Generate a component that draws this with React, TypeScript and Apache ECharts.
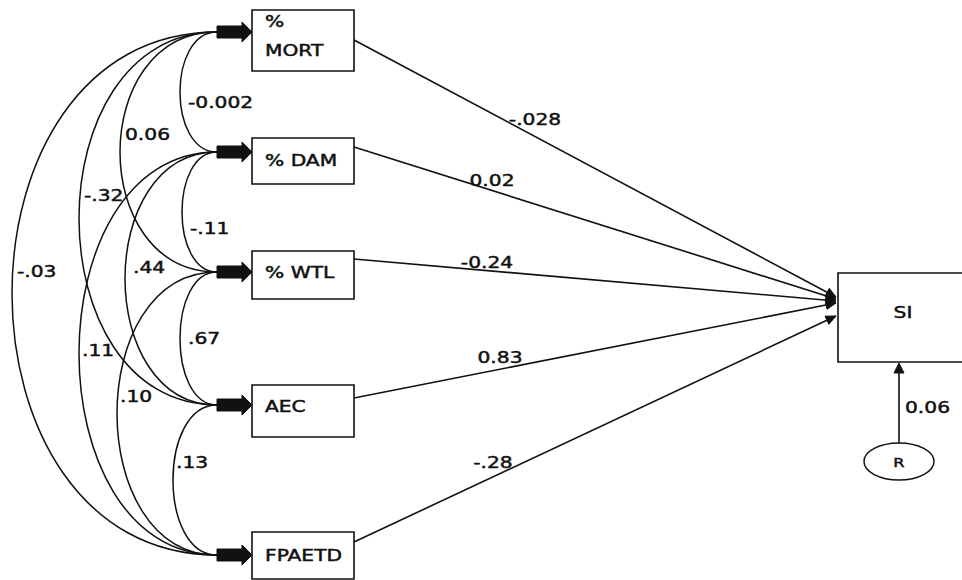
import React, { useEffect, useRef } from "react";
import * as echarts from "echarts";

// ---------------- data ----------------
const variableNames = ["% MORT", "% DAM", "% WTL", "AEC", "FPAETD"];
const variableLabelLines = [["%", "MORT"], ["% DAM"], ["% WTL"], ["AEC"], ["FPAETD"]];
const pathCoefficients = ["-.028", "0.02", "-0.24", "0.83", "-.28"];
const correlationFrom = [0, 0, 0, 0, 1, 1, 1, 2, 2, 3];
const correlationTo = [1, 2, 3, 4, 2, 3, 4, 3, 4, 4];
const correlationValues = ["-0.002", "0.06", "-.32", "-.03", "-.11", ".44", ".11", ".67", ".10", ".13"];
const outcomeName = "SI";
const residualName = "R";
const residualCoefficient = "0.06";

// ---------------- layout ----------------
const W = 962;
const H = 580;
const BOX_X0 = 252;
const BOX_X1 = 354;
const boxTop = [10, 138, 251, 385, 532];
const boxBottom = [71, 184, 299, 437, 579];
const labelLineY = [[22, 51], [161], [273], [407], [556]];
const LABEL_X = 265;
const arrowY = [32, 152, 272, 405, 555];
const ARROW_TAIL_X = 217;
const ARROW_HEAD_X = 242;
const pathStartY = [40, 147, 259, 398, 542];
const pathEndY = [297, 299, 301, 303, 316];
const PATH_END_X = 836;
const pathLabelPos = [[535, 120], [492, 181], [487, 263], [500, 358], [493, 463]];
const arcLeftX = [180, 120, 79, 12, 182, 125, 79, 180, 117, 173];
const corrLabelPos = [[188, 103], [125, 135], [84, 196], [17, 272], [190, 229], [133, 268], [82, 351], [188, 339], [120, 397], [176, 463]];
const SI_BOX = { x0: 838, y0: 273, x1: 975, y1: 362 };
const SI_LABEL = [903, 313];
const RES_CENTER = [899, 461.5];
const RES_RX = 35;
const RES_RY = 18.5;
const RES_COEF_POS = [905, 408];

const FONT = "DejaVu Sans";
const SX = 1.35;
const INK = "#111";

function txt(x: number, y: number, text: string, align: string, size = 15) {
  return {
    type: "text",
    x,
    y,
    scaleX: SX,
    style: {
      text,
      fill: INK,
      stroke: INK,
      lineWidth: 0.45,
      fontFamily: FONT,
      fontSize: size,
      align,
      verticalAlign: "middle",
    },
  };
}

function arrowHead(tipX: number, tipY: number, fromX: number, fromY: number, len: number, half: number) {
  const dx = tipX - fromX;
  const dy = tipY - fromY;
  const d = Math.sqrt(dx * dx + dy * dy) || 1;
  const ux = dx / d;
  const uy = dy / d;
  const bx = tipX - ux * len;
  const by = tipY - uy * len;
  return {
    type: "polygon",
    shape: {
      points: [
        [tipX, tipY],
        [bx - uy * half, by + ux * half],
        [bx + uy * half, by - ux * half],
      ],
    },
    style: { fill: INK, stroke: INK, lineWidth: 1 },
  };
}

export default function App() {
  const ref = useRef<HTMLDivElement>(null);

  useEffect(() => {
    if (!ref.current) return;
    const chart = echarts.init(ref.current, null, { renderer: "svg" });

    const boxesSeries = {
      type: "custom",
      silent: true,
      data: variableNames.map((_, i) => [i]),
      renderItem: (params: any, api: any) => {
        const i = api.value(0);
        const p0 = api.coord([BOX_X0, boxTop[i]]);
        const p1 = api.coord([BOX_X1, boxBottom[i]]);
        const children: any[] = [
          {
            type: "rect",
            shape: { x: p0[0], y: p0[1], width: p1[0] - p0[0], height: p1[1] - p0[1] },
            style: { fill: "#fff", stroke: INK, lineWidth: 1.6 },
          },
        ];
        variableLabelLines[i].forEach((line, k) => {
          const q = api.coord([LABEL_X, labelLineY[i][k]]);
          children.push(txt(q[0], q[1], line, "left"));
        });
        // thick arrow into the box
        const a0 = api.coord([ARROW_TAIL_X, arrowY[i]]);
        const ah = api.coord([ARROW_HEAD_X, arrowY[i]]);
        const at = api.coord([BOX_X0, arrowY[i]]);
        children.push({
          type: "polygon",
          shape: {
            points: [
              [a0[0], a0[1] - 6],
              [ah[0], ah[1] - 6],
              [ah[0], ah[1] - 10],
              [at[0], at[1]],
              [ah[0], ah[1] + 10],
              [ah[0], ah[1] + 6],
              [a0[0], a0[1] + 6],
            ],
          },
          style: { fill: INK, stroke: INK, lineWidth: 1 },
        });
        return { type: "group", children };
      },
    };

    const pathSeries = {
      type: "custom",
      silent: true,
      data: pathCoefficients.map((_, i) => [i]),
      renderItem: (params: any, api: any) => {
        const i = api.value(0);
        const s = api.coord([BOX_X1, pathStartY[i]]);
        const e = api.coord([PATH_END_X, pathEndY[i]]);
        const l = api.coord(pathLabelPos[i]);
        return {
          type: "group",
          children: [
            {
              type: "line",
              shape: { x1: s[0], y1: s[1], x2: e[0], y2: e[1] },
              style: { stroke: INK, lineWidth: 1.6 },
            },
            arrowHead(e[0], e[1], s[0], s[1], 10, 4.5),
            txt(l[0], l[1], pathCoefficients[i], "center"),
          ],
        };
      },
    };

    const corrSeries = {
      type: "custom",
      silent: true,
      data: correlationValues.map((_, i) => [i]),
      renderItem: (params: any, api: any) => {
        const i = api.value(0);
        const ya = arrowY[correlationFrom[i]];
        const yb = arrowY[correlationTo[i]];
        const cx = (arcLeftX[i] - 0.25 * ARROW_TAIL_X) / 0.75;
        const p1 = api.coord([ARROW_TAIL_X, ya]);
        const c1 = api.coord([cx, ya]);
        const c2 = api.coord([cx, yb]);
        const p2 = api.coord([ARROW_TAIL_X, yb]);
        const l = api.coord(corrLabelPos[i]);
        return {
          type: "group",
          children: [
            {
              type: "bezierCurve",
              shape: {
                x1: p1[0], y1: p1[1],
                cpx1: c1[0], cpy1: c1[1],
                cpx2: c2[0], cpy2: c2[1],
                x2: p2[0], y2: p2[1],
              },
              style: { stroke: INK, lineWidth: 1.5, fill: "none" },
            },
            txt(l[0], l[1], correlationValues[i], "left"),
          ],
        };
      },
    };

    const outcomeSeries = {
      type: "custom",
      silent: true,
      data: [[0]],
      renderItem: (params: any, api: any) => {
        const b0 = api.coord([SI_BOX.x0, SI_BOX.y0]);
        const b1 = api.coord([SI_BOX.x1, SI_BOX.y1]);
        const sl = api.coord(SI_LABEL);
        const rc = api.coord(RES_CENTER);
        const rTop = api.coord([RES_CENTER[0], RES_CENTER[1] - RES_RY]);
        const siBottom = api.coord([RES_CENTER[0], SI_BOX.y1]);
        const cl = api.coord(RES_COEF_POS);
        return {
          type: "group",
          children: [
            {
              type: "rect",
              shape: { x: b0[0], y: b0[1], width: b1[0] - b0[0], height: b1[1] - b0[1] },
              style: { fill: "#fff", stroke: INK, lineWidth: 1.6 },
            },
            txt(sl[0], sl[1], outcomeName, "center"),
            {
              type: "line",
              shape: { x1: rTop[0], y1: rTop[1], x2: siBottom[0], y2: siBottom[1] + 8 },
              style: { stroke: INK, lineWidth: 1.6 },
            },
            arrowHead(siBottom[0], siBottom[1] + 1, rTop[0], rTop[1], 10, 5),
            {
              type: "ellipse",
              shape: { cx: rc[0], cy: rc[1], rx: RES_RX, ry: RES_RY },
              style: { fill: "#fff", stroke: INK, lineWidth: 1.5 },
            },
            txt(rc[0], rc[1] + 1, residualName, "center", 12),
            txt(cl[0], cl[1], residualCoefficient, "left"),
          ],
        };
      },
    };

    chart.setOption({
      animation: false,
      backgroundColor: "#fff",
      grid: { left: 0, right: 0, top: 0, bottom: 0 },
      xAxis: { type: "value", min: 0, max: W, show: false },
      yAxis: { type: "value", min: 0, max: H, inverse: true, show: false },
      series: [corrSeries, pathSeries, boxesSeries, outcomeSeries],
    });

    return () => chart.dispose();
  }, []);

  return (
    <div
      ref={ref}
      style={{ position: "fixed", left: 0, top: 0, width: W + "px", height: H + "px", background: "#fff" }}
    />
  );
}
